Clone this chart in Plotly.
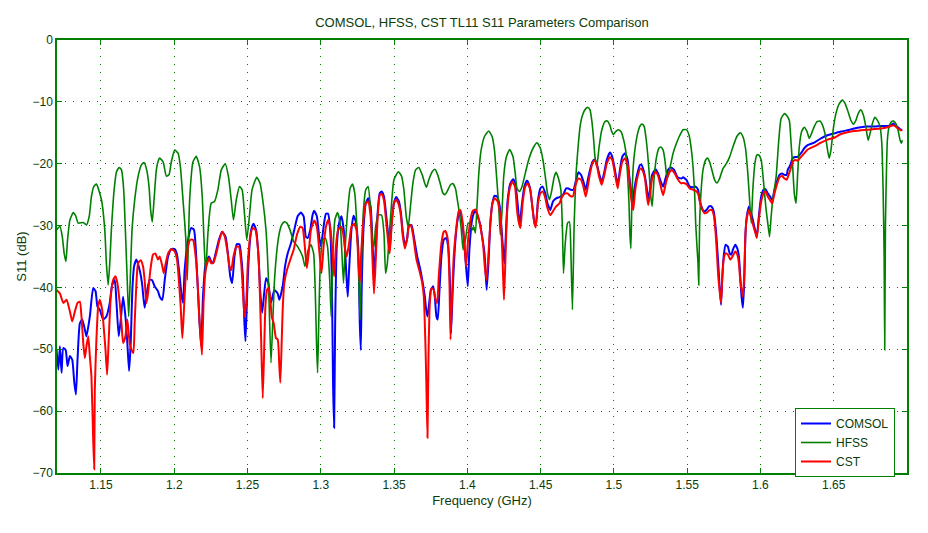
import plotly.graph_objects as go

# ---------------- data (frequency in GHz, S11 in dB) ----------------
hfss_f = [1.1197,1.1220,1.1236,1.1249,1.1261,1.1272,1.1288,1.1311,1.1327,1.1345,1.1379,1.1401,1.1420,1.1435,1.1451,1.1469,
1.1504,1.1526,1.1537,1.1549,1.1560,1.1571,1.1590,1.1606,1.1624,1.1640,1.1655,1.1669,1.1680,1.1689,1.1699,1.1712,1.1730,1.1753,
1.1776,1.1794,1.1812,1.1828,1.1839,1.1850,1.1862,1.1878,1.1893,
1.1901,1.1924,1.1946,1.1964,1.1980,1.2003,1.2026,1.2042,1.2060,1.2078,1.2089,1.2105,1.2128,1.2150,1.2173,1.2191,1.2203,1.2214,
1.2230,1.2252,1.2275,1.2298,1.2321,1.2348,1.2370,1.2389,1.2404,1.2423,1.2445,1.2463,1.2479,1.2495,1.2513,1.2531,1.2563,1.2586,1.2604,
1.2626,1.2642,1.2660,1.2672,1.2683,1.2701,1.2717,1.2733,1.2751,1.2769,1.2790,1.2815,1.2842,1.2876,1.2892,1.2914,1.2933,1.2951,
1.2962,1.2971,1.2978,1.2985,1.2996,1.3012,1.3030,1.3046,1.3062,1.3071,1.3082,1.3096,1.3114,1.3132,1.3143,1.3155,1.3166,1.3182,
1.3200,1.3216,1.3232,1.3245,1.3257,1.3268,1.3279,1.3291,1.3307,1.3323,
1.3340,1.3352,1.3363,1.3374,1.3393,1.3415,1.3431,1.3442,1.3454,1.3465,1.3483,1.3499,1.3529,1.3551,1.3567,1.3583,1.3597,1.3612,
1.3628,1.3647,1.3669,1.3692,1.3710,1.3721,1.3737,1.3760,1.3778,1.3798,1.3817,1.3832,1.3846,1.3862,1.3885,1.3900,1.3919,1.3932,
1.3946,1.3959,1.3971,1.3987,1.4005,1.4021,1.4037,
1.4044,1.4055,1.4067,1.4078,1.4094,1.4117,1.4146,1.4169,1.4185,1.4203,1.4214,1.4225,1.4237,1.4248,1.4266,1.4289,1.4312,1.4327,
1.4339,1.4357,1.4373,1.4395,1.4418,1.4448,1.4475,1.4498,1.4516,1.4532,1.4547,1.4561,1.4577,1.4593,1.4606,1.4622,1.4638,1.4649,
1.4656,1.4668,1.4684,1.4697,1.4706,1.4717,1.4729,1.4742,
1.4758,1.4769,1.4785,1.4808,1.4822,1.4837,1.4849,1.4860,1.4871,1.4883,1.4899,1.4917,1.4939,1.4955,1.4973,1.4985,1.4996,1.5012,
1.5030,1.5048,1.5064,1.5080,1.5094,1.5103,1.5109,1.5116,1.5123,1.5132,1.5143,1.5162,1.5178,1.5193,1.5207,1.5218,1.5230,1.5241,
1.5252,1.5261,1.5275,1.5291,1.5307,1.5320,1.5336,1.5348,1.5359,1.5370,1.5384,1.5404,1.5427,1.5450,
1.5472,1.5495,1.5513,1.5529,1.5540,1.5551,1.5558,1.5567,1.5574,1.5579,1.5585,1.5597,1.5608,1.5626,1.5638,1.5653,1.5672,1.5687,
1.5703,1.5721,1.5744,1.5767,1.5790,1.5812,1.5839,1.5862,1.5880,1.5898,1.5914,1.5926,1.5937,1.5948,1.5962,1.5975,1.5989,1.6005,
1.6016,1.6028,1.6039,1.6050,1.6062,1.6073,1.6084,1.6107,1.6125,1.6141,1.6164,1.6179,
1.6197,1.6209,1.6220,1.6231,1.6243,1.6254,1.6265,1.6281,1.6299,1.6318,1.6333,1.6349,1.6367,1.6386,1.6406,1.6424,1.6440,1.6458,
1.6469,1.6481,1.6499,1.6515,1.6538,1.6560,1.6576,1.6594,1.6617,1.6635,1.6651,1.6667,1.6685,1.6703,1.6719,1.6735,1.6748,1.6764,
1.6780,1.6798,1.6816,1.6828,1.6837,1.6844,1.6848,1.6853,1.6860,1.6866,1.6878,1.6894,1.6907,1.6923,1.6939,1.6953,1.6962,1.6968]
hfss_db = [-30.7,-30.1,-31.8,-34.5,-35.8,-32.3,-29.1,-27.9,-28.4,-29.6,-29.5,-29.9,-28.5,-25.3,-23.7,-23.3,
-25.9,-30.7,-36.1,-39.6,-36.1,-30.7,-24.2,-21.3,-20.6,-21.0,-24.2,-32.3,-39.3,-44.7,-39.3,-30.7,-25.9,-22.1,
-20.2,-19.8,-21.0,-23.7,-27.5,-29.4,-25.9,-21.0,-19.4,
-19.1,-19.7,-22.0,-21.8,-19.7,-17.8,-18.3,-20.5,-25.9,-31.8,-38.8,-25.9,-19.7,-18.8,-20.5,-25.3,-32.3,-37.7,
-31.2,-26.4,-26.1,-24.2,-21.0,-20.0,-22.1,-25.9,-29.1,-25.9,-23.7,-24.2,-28.0,-32.3,-28.5,-24.2,-22.2,-23.2,-25.9,
-30.7,-38.2,-52.2,-45.8,-39.3,-33.9,-31.2,-29.9,-29.4,-29.6,-30.7,-32.6,-33.4,-35.0,-36.6,-33.9,-33.1,-34.5,
-40.4,-49.0,-53.8,-46.8,-36.6,-32.3,-32.0,-33.4,-39.3,-44.7,-35.0,-29.1,-27.9,-29.6,-33.9,-39.3,-33.9,-28.0,
-24.0,-23.3,-24.8,-29.6,-36.1,-45.2,-35.0,-27.5,-24.2,-23.7,
-27.5,-32.3,-33.4,-30.2,-28.3,-28.3,-31.2,-37.7,-36.1,-32.3,-26.4,-22.6,-21.3,-22.0,-24.2,-28.5,-30.2,-26.9,
-23.2,-21.0,-20.6,-21.8,-23.2,-23.8,-22.6,-21.3,-20.9,-21.8,-23.4,-24.7,-25.0,-24.5,-23.4,-23.2,-24.0,-25.9,
-28.0,-30.7,-33.9,-32.3,-29.6,-29.9,-30.7,
-30.2,-31.2,-26.4,-21.6,-17.8,-15.6,-14.7,-15.6,-17.8,-23.2,-26.9,-31.5,-27.5,-22.1,-18.9,-17.7,-18.9,-21.6,
-24.0,-24.5,-23.7,-21.6,-19.4,-17.5,-16.6,-17.5,-19.4,-22.1,-24.8,-25.8,-24.2,-22.1,-21.4,-22.4,-24.2,-30.7,
-37.7,-32.9,-29.6,-29.4,-33.9,-43.6,-29.6,-21.6,
-16.7,-14.0,-12.2,-11.1,-10.9,-11.3,-13.0,-15.6,-18.9,-20.5,-17.3,-14.6,-13.2,-13.1,-13.8,-14.8,-15.3,-14.8,
-14.5,-14.8,-15.9,-17.8,-22.1,-26.4,-31.2,-33.7,-25.9,-20.5,-17.8,-15.1,-13.9,-13.6,-14.0,-15.6,-18.3,-21.6,
-25.3,-26.9,-22.1,-18.9,-17.5,-17.3,-17.8,-19.4,-21.6,-22.1,-20.5,-18.3,-16.7,-15.4,
-14.5,-14.5,-15.4,-17.8,-20.5,-24.8,-29.6,-33.4,-36.1,-39.6,-29.6,-23.7,-21.0,-19.4,-19.1,-19.7,-21.3,-22.6,
-23.1,-22.4,-20.8,-20.0,-18.9,-17.3,-15.6,-15.0,-15.6,-17.5,-21.6,-25.9,-29.6,-24.2,-20.0,-18.6,-18.6,-19.4,
-21.6,-24.8,-27.5,-29.6,-31.8,-28.5,-25.9,-22.1,-16.2,-12.7,-11.9,-12.2,
-13.0,-16.7,-20.5,-24.8,-26.4,-21.6,-17.3,-14.8,-14.1,-14.8,-15.9,-15.1,-14.0,-13.2,-13.1,-13.8,-15.1,-17.8,
-19.1,-17.8,-14.0,-11.9,-10.3,-9.7,-10.2,-11.3,-13.0,-13.6,-13.0,-11.9,-11.3,-12.2,-14.0,-16.2,-15.1,-13.5,
-12.5,-13.0,-14.0,-16.7,-24.2,-35.0,-50.1,-29.6,-21.0,-16.2,-14.0,-13.2,-13.1,-13.5,-14.6,-16.2,-16.7,-16.2]

comsol_f = [1.1197,1.1209,1.1220,1.1231,1.1243,1.1259,1.1272,1.1288,1.1304,1.1318,1.1329,1.1340,1.1356,1.1372,1.1390,1.1401,
1.1424,1.1447,1.1463,1.1476,1.1492,1.1515,1.1537,1.1560,1.1576,1.1594,1.1606,1.1621,1.1635,1.1651,1.1667,1.1680,1.1692,1.1703,
1.1714,1.1726,1.1742,1.1764,1.1780,1.1798,1.1816,1.1832,1.1848,1.1866,1.1889,
1.1901,1.1919,1.1935,1.1958,1.1980,1.2003,1.2019,1.2037,1.2051,1.2060,1.2071,1.2094,1.2116,1.2135,1.2146,1.2157,1.2173,1.2184,
1.2196,1.2214,1.2237,1.2252,1.2264,1.2282,1.2305,1.2327,1.2350,1.2366,1.2382,1.2395,1.2411,1.2427,1.2445,1.2457,1.2468,1.2479,
1.2486,1.2497,1.2509,1.2525,1.2541,1.2559,1.2575,1.2586,1.2600,
1.2626,1.2642,1.2660,1.2683,1.2706,1.2717,1.2740,1.2756,1.2774,1.2796,1.2819,1.2842,1.2864,1.2883,1.2898,1.2910,1.2928,1.2944,
1.2955,1.2973,1.2989,1.3001,1.3019,1.3035,1.3050,1.3064,1.3075,1.3084,1.3091,1.3098,1.3109,1.3125,1.3141,1.3159,1.3175,1.3184,
1.3193,1.3209,1.3223,1.3239,1.3255,1.3266,1.3273,1.3279,1.3291,1.3307,1.3323,
1.3340,1.3352,1.3363,1.3374,1.3386,1.3402,1.3415,1.3431,1.3447,1.3461,1.3470,1.3483,1.3499,1.3515,1.3533,1.3547,1.3560,1.3574,
1.3588,1.3601,1.3619,1.3635,1.3658,1.3680,1.3696,1.3710,1.3719,1.3728,1.3737,1.3751,1.3767,1.3778,1.3789,1.3798,1.3810,1.3823,
1.3839,1.3855,1.3869,1.3880,1.3889,1.3900,1.3914,1.3930,1.3946,1.3959,1.3975,1.3991,1.4003,1.4014,1.4032,
1.4044,1.4055,1.4067,1.4085,1.4101,1.4117,1.4126,1.4132,1.4144,1.4157,1.4171,1.4185,1.4203,1.4221,1.4234,1.4244,1.4253,1.4262,
1.4275,1.4293,1.4312,1.4327,1.4343,1.4357,1.4373,1.4389,1.4407,1.4425,1.4441,1.4457,1.4468,1.4482,1.4498,1.4513,1.4532,1.4547,
1.4566,1.4584,1.4606,1.4629,1.4652,1.4674,1.4690,1.4706,1.4724,1.4742,
1.4758,1.4776,1.4792,1.4808,1.4822,1.4837,1.4853,1.4867,1.4883,1.4899,1.4917,1.4935,1.4951,1.4973,1.4989,1.5007,1.5026,1.5041,
1.5057,1.5076,1.5094,1.5103,1.5116,1.5128,1.5139,1.5155,1.5178,1.5189,1.5205,1.5223,1.5234,1.5246,1.5261,1.5284,1.5302,1.5320,
1.5336,1.5352,1.5370,1.5388,1.5411,1.5434,1.5461,
1.5472,1.5495,1.5517,1.5540,1.5558,1.5574,1.5585,1.5597,1.5613,1.5631,1.5649,1.5665,1.5681,1.5694,1.5703,1.5712,1.5721,1.5731,
1.5740,1.5749,1.5762,1.5778,1.5790,1.5801,1.5812,1.5828,1.5842,1.5853,1.5862,1.5871,1.5880,1.5889,1.5898,1.5907,1.5921,1.5937,
1.5953,1.5966,1.5975,1.5989,1.6005,1.6021,1.6034,1.6050,1.6066,1.6080,1.6096,1.6112,1.6130,1.6148,1.6164,1.6179,
1.6186,1.6204,1.6220,1.6236,1.6254,1.6277,1.6299,1.6322,1.6367,1.6413,1.6458,1.6504,1.6549,1.6594,1.6640,1.6685,1.6730,1.6776,
1.6821,1.6866,1.6889,1.6907,1.6923,1.6939,1.6957,1.6968]
comsol_db = [-50.1,-53.3,-49.5,-53.8,-49.8,-50.1,-52.7,-51.1,-51.7,-55.4,-57.3,-51.7,-45.8,-45.2,-46.8,-47.9,
-44.7,-40.1,-40.6,-43.1,-43.6,-45.2,-44.7,-42.5,-39.6,-38.8,-42.5,-47.9,-45.2,-41.5,-44.7,-49.0,-53.5,-49.0,
-40.4,-36.6,-35.5,-37.2,-39.3,-43.3,-40.4,-38.8,-38.8,-39.8,-40.6,
-41.5,-42.0,-38.8,-35.0,-33.8,-33.8,-34.7,-38.2,-41.5,-42.5,-37.2,-32.3,-30.4,-30.7,-33.4,-38.2,-45.8,-49.5,
-41.5,-36.1,-35.0,-35.8,-36.1,-34.5,-32.3,-31.0,-31.8,-34.5,-38.2,-39.3,-35.0,-33.0,-33.0,-35.0,-38.2,-45.8,
-48.7,-41.5,-35.0,-30.7,-29.7,-30.7,-35.0,-40.4,-44.1,
-38.5,-39.3,-42.5,-40.4,-41.0,-42.0,-39.8,-36.6,-34.5,-32.9,-30.7,-28.5,-27.9,-28.5,-31.8,-32.0,-30.7,-28.3,
-27.6,-28.5,-31.8,-33.4,-30.2,-28.1,-28.1,-30.7,-38.2,-56.0,-62.7,-45.8,-33.4,-29.6,-28.5,-31.2,-38.2,-41.5,
-37.2,-30.7,-28.4,-29.4,-33.4,-45.8,-50.1,-40.4,-30.7,-26.4,-25.6,
-26.9,-32.3,-38.2,-33.9,-28.5,-24.8,-24.5,-25.3,-28.5,-31.8,-33.9,-29.6,-26.4,-25.4,-26.1,-28.0,-31.2,-33.1,
-32.3,-29.9,-29.9,-31.8,-35.0,-37.2,-39.3,-41.5,-43.6,-44.7,-43.1,-40.4,-39.8,-41.5,-44.7,-45.2,-40.4,-35.0,
-32.3,-32.0,-33.4,-38.2,-47.4,-40.4,-33.9,-29.6,-27.6,-28.5,-31.8,-36.6,-39.8,-33.9,-29.1,
-28.0,-27.5,-28.3,-29.6,-31.8,-34.5,-38.2,-40.4,-36.1,-29.6,-26.4,-25.2,-25.3,-26.9,-30.7,-33.9,-36.1,-31.8,
-25.9,-23.2,-22.5,-23.2,-26.4,-29.9,-26.4,-23.7,-22.7,-23.7,-26.4,-29.4,-29.9,-25.9,-24.0,-23.7,-24.8,-26.4,
-27.5,-26.1,-25.6,-25.4,-25.1,-24.0,-24.0,-24.2,-24.2,-22.6,
-21.4,-21.8,-22.9,-24.2,-22.6,-21.0,-19.7,-19.3,-20.0,-21.6,-22.9,-21.3,-19.4,-18.2,-18.9,-21.0,-23.4,-21.0,
-18.9,-18.3,-19.4,-21.6,-24.2,-26.4,-24.2,-22.1,-20.2,-20.2,-21.3,-23.7,-25.9,-24.2,-21.8,-20.9,-21.6,-22.9,
-23.7,-22.4,-21.0,-20.6,-21.0,-22.2,-22.4,
-22.2,-22.6,-23.7,-23.8,-23.7,-24.2,-25.9,-26.9,-27.7,-27.5,-26.9,-26.9,-27.7,-30.2,-32.9,-36.1,-39.8,-42.8,
-38.2,-35.0,-33.1,-33.4,-34.5,-34.7,-33.9,-33.1,-33.7,-35.0,-38.2,-41.5,-43.3,-39.3,-31.2,-28.5,-26.9,-28.0,
-29.6,-31.0,-31.8,-28.5,-25.3,-24.2,-24.1,-24.8,-25.3,-25.9,-24.2,-22.9,-21.8,-21.6,-21.8,-21.8,
-21.0,-20.2,-19.1,-18.9,-18.9,-18.3,-17.5,-17.0,-16.6,-15.9,-15.4,-15.1,-14.8,-14.6,-14.3,-14.1,-14.0,-14.0,
-13.9,-13.9,-13.8,-13.5,-13.9,-14.1,-14.5,-14.5]

cst_f = [1.1197,1.1220,1.1243,1.1265,1.1288,1.1304,1.1322,1.1340,1.1356,1.1367,1.1379,1.1390,1.1401,1.1413,1.1424,1.1435,
1.1447,1.1454,1.1458,1.1469,1.1481,1.1492,1.1508,1.1522,1.1531,1.1542,1.1553,1.1567,1.1583,1.1599,1.1612,1.1628,1.1640,1.1651,
1.1667,1.1680,1.1696,1.1708,1.1721,1.1730,1.1742,1.1753,1.1771,1.1787,1.1798,1.1810,1.1821,1.1837,1.1855,1.1871,1.1889,
1.1901,1.1919,1.1928,1.1942,1.1958,1.1980,1.2003,1.2019,1.2033,1.2044,1.2055,1.2064,1.2078,1.2094,1.2110,1.2128,1.2146,1.2162,
1.2173,1.2189,1.2200,1.2214,1.2237,1.2252,1.2268,1.2287,1.2309,1.2327,1.2345,1.2361,1.2377,1.2389,1.2404,1.2423,1.2441,1.2457,
1.2468,1.2479,1.2491,1.2502,1.2518,1.2536,1.2554,1.2570,1.2581,1.2593,1.2604,
1.2622,1.2633,1.2642,1.2654,1.2665,1.2679,1.2694,1.2706,1.2717,1.2724,1.2733,1.2740,1.2751,1.2769,1.2792,1.2815,1.2837,1.2860,
1.2876,1.2887,1.2905,1.2917,1.2933,1.2955,1.2973,1.2989,1.3005,1.3019,1.3035,1.3050,1.3064,1.3080,1.3091,1.3103,1.3118,1.3137,
1.3152,1.3166,1.3177,1.3193,1.3209,1.3227,1.3243,1.3255,1.3266,1.3277,1.3291,1.3307,1.3323,
1.3340,1.3352,1.3363,1.3374,1.3386,1.3402,1.3415,1.3431,1.3447,1.3461,1.3470,1.3483,1.3499,1.3515,1.3533,1.3547,1.3560,1.3574,
1.3588,1.3601,1.3615,1.3631,1.3653,1.3674,1.3692,1.3703,1.3715,1.3721,1.3728,1.3735,1.3744,1.3755,1.3771,1.3783,1.3794,1.3805,
1.3823,1.3839,1.3851,1.3867,1.3878,1.3885,1.3896,1.3907,1.3923,1.3941,1.3953,1.3969,1.3982,1.3991,1.4005,1.4021,1.4037,
1.4044,1.4055,1.4071,1.4089,1.4107,1.4119,1.4130,1.4142,1.4157,1.4171,1.4187,1.4207,1.4225,1.4237,1.4244,1.4250,1.4259,1.4271,
1.4289,1.4307,1.4325,1.4339,1.4352,1.4362,1.4377,1.4395,1.4411,1.4430,1.4443,1.4457,1.4466,1.4482,1.4498,1.4513,1.4529,1.4547,
1.4566,1.4584,1.4606,1.4629,1.4645,1.4668,1.4684,1.4702,1.4720,1.4736,1.4751,
1.4758,1.4776,1.4792,1.4808,1.4822,1.4837,1.4853,1.4867,1.4883,1.4899,1.4917,1.4935,1.4951,1.4973,1.4989,1.5007,1.5026,1.5041,
1.5057,1.5076,1.5094,1.5105,1.5116,1.5132,1.5143,1.5159,1.5180,1.5193,1.5212,1.5223,1.5234,1.5248,1.5261,1.5284,1.5302,1.5320,
1.5336,1.5352,1.5370,1.5393,1.5416,1.5438,1.5461,
1.5472,1.5495,1.5517,1.5540,1.5558,1.5574,1.5590,1.5604,1.5619,1.5635,1.5653,1.5669,1.5683,1.5694,1.5703,1.5712,1.5721,1.5731,
1.5740,1.5749,1.5762,1.5778,1.5794,1.5812,1.5828,1.5842,1.5853,1.5862,1.5871,1.5880,1.5889,1.5898,1.5907,1.5921,1.5937,1.5953,
1.5966,1.5975,1.5989,1.6005,1.6021,1.6034,1.6050,1.6066,1.6080,1.6096,1.6112,1.6130,1.6148,1.6164,1.6179,
1.6186,1.6204,1.6220,1.6236,1.6254,1.6277,1.6299,1.6322,1.6367,1.6413,1.6458,1.6504,1.6549,1.6594,1.6640,1.6685,1.6730,1.6776,
1.6821,1.6866,1.6889,1.6907,1.6923,1.6939,1.6957,1.6968]
cst_db = [-40.4,-41.0,-42.5,-42.0,-43.9,-45.5,-43.9,-42.5,-42.3,-44.7,-49.0,-51.4,-49.5,-47.9,-51.1,-54.4,
-64.6,-69.4,-56.5,-48.4,-43.1,-42.0,-43.6,-47.4,-50.1,-54.1,-48.4,-41.5,-38.8,-38.2,-39.3,-42.5,-45.8,-49.0,
-47.9,-45.2,-49.0,-50.1,-50.6,-45.8,-39.3,-36.1,-35.6,-36.6,-38.8,-42.5,-41.0,-37.2,-34.7,-34.5,-35.5,
-35.0,-36.6,-37.7,-36.1,-34.5,-33.8,-34.2,-35.5,-39.3,-43.1,-48.2,-44.7,-38.2,-33.4,-32.3,-32.3,-35.0,-40.4,
-45.8,-50.9,-42.5,-37.2,-35.3,-36.1,-36.0,-34.5,-32.3,-31.0,-31.8,-33.9,-36.6,-37.2,-35.0,-33.4,-33.4,-36.1,
-40.4,-44.7,-42.5,-36.1,-31.8,-30.4,-30.7,-33.4,-38.2,-48.4,-57.9,
-43.1,-40.4,-40.1,-41.5,-44.7,-45.8,-48.2,-48.4,-52.7,-55.4,-49.0,-43.6,-39.3,-37.2,-35.5,-33.9,-31.5,-30.2,
-30.4,-32.3,-36.9,-34.5,-30.7,-29.2,-30.2,-33.9,-37.7,-33.4,-30.2,-29.1,-30.2,-34.5,-38.2,-33.4,-30.7,-30.2,
-31.2,-33.9,-35.0,-32.9,-30.2,-29.7,-30.7,-35.0,-39.3,-33.9,-29.1,-26.4,-26.1,
-28.5,-35.0,-41.0,-36.1,-29.6,-25.1,-24.9,-25.9,-29.6,-32.9,-34.5,-30.2,-26.4,-25.8,-26.7,-28.5,-31.8,-33.7,
-32.3,-30.2,-29.9,-31.8,-35.5,-37.4,-39.3,-41.5,-50.1,-56.5,-64.3,-51.1,-42.5,-40.1,-40.4,-42.0,-42.5,-38.2,
-32.9,-31.0,-30.9,-32.3,-39.3,-48.4,-41.5,-35.0,-30.7,-27.7,-27.5,-29.6,-33.4,-36.6,-32.3,-29.1,-27.6,
-27.5,-27.4,-28.3,-30.2,-32.9,-36.6,-38.8,-35.5,-29.6,-26.4,-25.6,-26.1,-28.5,-33.4,-38.2,-42.0,-36.1,-28.0,
-24.0,-22.9,-23.7,-27.5,-29.6,-30.4,-26.4,-23.7,-23.2,-24.2,-26.9,-29.6,-30.3,-26.4,-24.8,-24.5,-25.3,-27.2,
-28.3,-27.7,-26.9,-26.4,-25.4,-24.8,-24.8,-25.2,-25.3,-23.7,-22.6,
-22.4,-22.6,-23.7,-25.3,-23.7,-21.6,-20.0,-19.5,-20.2,-22.1,-23.4,-21.8,-20.0,-18.9,-19.4,-21.6,-24.0,-21.6,
-19.7,-19.1,-20.2,-22.6,-25.3,-27.5,-24.8,-22.4,-20.8,-21.0,-22.4,-24.8,-26.7,-24.8,-22.4,-21.3,-22.0,-23.7,
-25.1,-23.4,-21.8,-21.0,-21.6,-22.6,-23.2,
-23.1,-23.3,-24.0,-24.2,-24.4,-24.8,-26.4,-27.5,-28.0,-27.9,-27.5,-27.5,-28.5,-31.2,-34.5,-38.2,-40.4,-42.5,
-38.2,-35.5,-34.5,-34.7,-35.5,-34.9,-34.2,-34.7,-36.1,-38.8,-40.4,-41.5,-38.2,-31.2,-28.8,-27.5,-28.8,-30.2,
-31.2,-32.0,-29.1,-26.1,-24.8,-24.5,-25.3,-25.9,-26.4,-24.8,-23.4,-22.2,-22.0,-22.4,-22.6,
-22.2,-21.0,-19.7,-19.4,-19.5,-18.9,-18.3,-17.7,-17.2,-16.6,-16.1,-15.8,-15.2,-14.9,-14.7,-14.6,-14.5,-14.4,
-14.3,-14.1,-13.9,-13.8,-14.0,-14.3,-14.6,-14.6]

x_ticks = [1.15, 1.2, 1.25, 1.3, 1.35, 1.4, 1.45, 1.5, 1.55, 1.6, 1.65]
x_tick_text = ["1.15", "1.2", "1.25", "1.3", "1.35", "1.4", "1.45", "1.5", "1.55", "1.6", "1.65"]
y_ticks = [0, -10, -20, -30, -40, -50, -60, -70]

# ---------------- styling ----------------
AX = "#008000"
TXT = "#0b3d0b"
FONT = "Liberation Sans, Arial, sans-serif"

fig = go.Figure()
fig.add_trace(go.Scatter(x=comsol_f, y=comsol_db, mode="lines", name="COMSOL",
                         line=dict(color="#0000ff", width=2, shape="spline", smoothing=0.5)))
fig.add_trace(go.Scatter(x=hfss_f, y=hfss_db, mode="lines", name="HFSS",
                         line=dict(color="#008000", width=1.6, shape="spline", smoothing=0.5)))
fig.add_trace(go.Scatter(x=cst_f, y=cst_db, mode="lines", name="CST",
                         line=dict(color="#ff0000", width=2, shape="spline", smoothing=0.5)))

fig.update_layout(
    width=928, height=533,
    paper_bgcolor="white", plot_bgcolor="white",
    margin=dict(l=57, r=21, t=40, b=60, autoexpand=False),
    font=dict(family=FONT, size=12, color=TXT),
    title=dict(text="COMSOL, HFSS, CST TL11 S11 Parameters Comparison",
               x=(57 + 850 / 2) / 928, xanchor="center", y=1 - 22 / 533, yanchor="middle",
               font=dict(family=FONT, size=13, color=TXT)),
    showlegend=True,
    legend=dict(x=(795 - 57) / 850, y=(473 - 408) / 433, xanchor="left", yanchor="top",
                bgcolor="white", bordercolor=AX, borderwidth=1,
                font=dict(family=FONT, size=12, color=TXT),
                itemwidth=30, tracegroupgap=0),
)
fig.update_xaxes(range=[1.12, 1.70], tickvals=x_ticks, ticktext=x_tick_text, automargin=False,
                 showline=True, linecolor=AX, linewidth=1.5, mirror="ticks",
                 ticks="inside", ticklen=5, tickcolor=AX,
                 showgrid=True, gridcolor=AX, griddash="1px,7px", gridwidth=1,
                 zeroline=False,
                 title=dict(text="Frequency (GHz)", standoff=5, font=dict(size=13, color=TXT)))
fig.update_yaxes(range=[-70, 0], tickvals=y_ticks, automargin=False,
                 showline=True, linecolor=AX, linewidth=1.5, mirror="ticks",
                 ticks="inside", ticklen=5, tickcolor=AX,
                 showgrid=True, gridcolor=AX, griddash="1px,7px", gridwidth=1,
                 zeroline=False,
                 title=dict(text="S11 (dB)", standoff=3, font=dict(size=13, color=TXT)))

fig.write_html("out.html", config={"displayModeBar": False},
               post_script="document.body.style.margin='0';")
